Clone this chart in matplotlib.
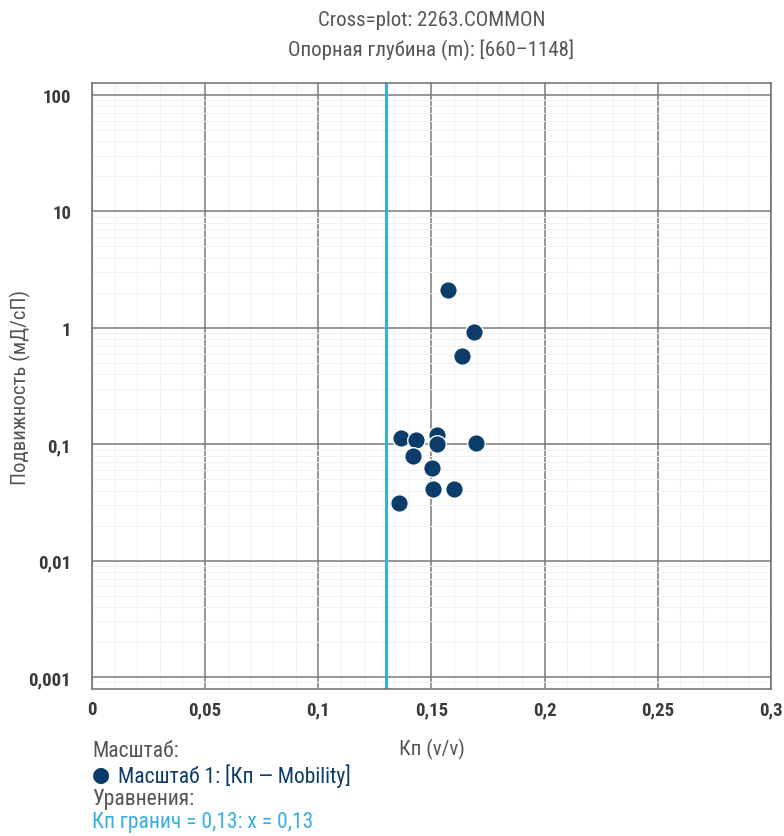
import matplotlib
matplotlib.use("Agg")
import matplotlib.pyplot as plt
from matplotlib import font_manager
from matplotlib.ticker import FixedLocator, MultipleLocator, LogLocator, FuncFormatter, NullFormatter
import numpy as np

# Data: porosity (Kp, v/v) vs mobility (mD/cP)
kp = [0.1575, 0.1687, 0.1636, 0.1367, 0.1433, 0.1524, 0.1524, 0.1698,
      0.1418, 0.1502, 0.1506, 0.1598, 0.1356]
mobility = [2.13, 0.92, 0.578, 0.114, 0.108, 0.119, 0.101, 0.103,
            0.080, 0.0625, 0.041, 0.041, 0.0315]
kp_cutoff = 0.13

x_ticks = [0, 0.05, 0.1, 0.15, 0.2, 0.25, 0.3]
y_ticks = [0.001, 0.01, 0.1, 1, 10, 100]

available = {f.name for f in font_manager.fontManager.ttflist}
family = [f for f in ["Liberation Sans Narrow", "Roboto Condensed", "Roboto", "DejaVu Sans"] if f in available]
plt.rcParams["font.family"] = family

NAVY = "#0b3c6a"
CYAN = "#36b0e2"
GREY = "#555555"

fig = plt.figure(figsize=(7.84, 8.37), dpi=100)
ax = fig.add_axes([0.1173, 0.1756, 0.8661, 0.7240])

ax.set_yscale("log")
ax.set_xlim(0, 0.3)
ax.set_ylim(10 ** -3.103, 10 ** 2.103)

def comma(v, pos=None):
    if v >= 1:
        s = f"{v:.0f}"
    else:
        s = f"{v:g}"
    return s.replace(".", ",")

ax.xaxis.set_major_locator(FixedLocator(x_ticks))
ax.xaxis.set_major_formatter(FuncFormatter(comma))
ax.xaxis.set_minor_locator(MultipleLocator(0.01))
ax.yaxis.set_major_locator(FixedLocator(y_ticks))
ax.yaxis.set_major_formatter(FuncFormatter(comma))
ax.yaxis.set_minor_locator(LogLocator(base=10, subs=np.arange(2, 10)))
ax.yaxis.set_minor_formatter(NullFormatter())

ax.grid(which="major", color="#7a7a7a", linewidth=1.1)
ax.grid(which="minor", color="#f1f1f1", linewidth=0.8)
ax.set_axisbelow(True)
ax.tick_params(which="both", length=0)
ax.tick_params(axis="x", pad=8)
ax.tick_params(axis="y", pad=15)
for lab in ax.get_xticklabels() + ax.get_yticklabels():
    lab.set_fontweight("bold")
    lab.set_fontsize(13.5)
    lab.set_color("#3a3a3a")
for sp in ax.spines.values():
    sp.set_color("#6e6e6e")
    sp.set_linewidth(1.1)

ax.axvline(kp_cutoff, color=CYAN, linewidth=2.2, zorder=2)
ax.scatter(kp, mobility, s=160, color=NAVY, edgecolors="white", linewidths=1.0, zorder=3)

ax.set_xlabel("Кп (v/v)", fontsize=15, color=GREY, labelpad=14)
ax.set_ylabel("Подвижность (мД/сП)", fontsize=15, color=GREY, labelpad=8)
ax.yaxis.set_label_coords(-0.09, 0.5)

cx = 0.1173 + 0.8661 / 2
fig.text(cx, 1 - 21 / 837, "Cross=plot: 2263.COMMON", ha="center", va="center", fontsize=15, color=GREY)
fig.text(cx, 1 - 50 / 837, "Опорная глубина (m): [660–1148]", ha="center", va="center", fontsize=15, color=GREY)

lx = 92 / 784
fig.text(lx, 1 - 752 / 837, "Масштаб:", ha="left", va="center", fontsize=15.5, color=GREY)
fig.text(lx, 1 - 776 / 837, "●", ha="left", va="center", fontsize=15, color=NAVY)
fig.text(lx + 26 / 784, 1 - 776 / 837, "Масштаб 1: [Кп — Mobility]", ha="left", va="center", fontsize=15.5, color=NAVY)
fig.text(lx, 1 - 800 / 837, "Уравнения:", ha="left", va="center", fontsize=15.5, color=GREY)
fig.text(lx, 1 - 823 / 837, "Кп гранич = 0,13: x = 0,13", ha="left", va="center", fontsize=15.5, color=CYAN)

fig.savefig("out.png", dpi=100)
